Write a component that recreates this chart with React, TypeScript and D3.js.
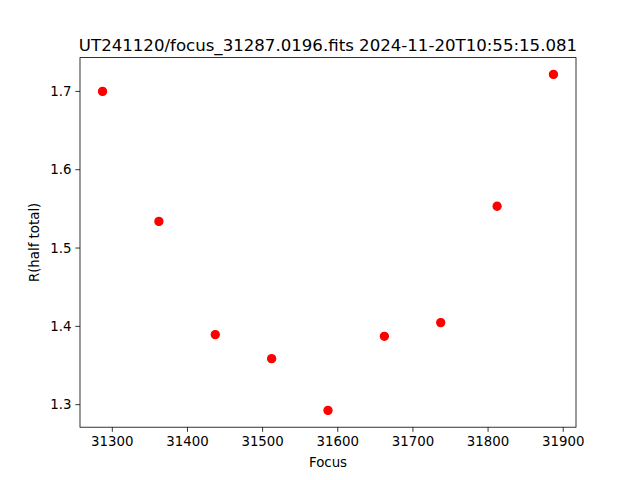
import React from "react";
import * as d3 from "d3";

const focusValues = [31287, 31362, 31437, 31512, 31587, 31662, 31737, 31812, 31887];
const radiusValues = [1.700, 1.534, 1.3895, 1.3588, 1.2927, 1.3873, 1.4048, 1.5534, 1.7217];
const xTicks = [31300, 31400, 31500, 31600, 31700, 31800, 31900];
const yTicks = [1.3, 1.4, 1.5, 1.6, 1.7];
const titleText = "UT241120/focus_31287.0196.fits 2024-11-20T10:55:15.081";
const xLabel = "Focus";
const yLabel = "R(half total)";

export default function App() {
  const W = 640, H = 480;
  const left = 80, right = 576, top = 57.6, bottom = 427.2;
  const [xmin, xmax] = d3.extent(focusValues) as [number, number];
  const [ymin, ymax] = d3.extent(radiusValues) as [number, number];
  const xm = (xmax - xmin) * 0.05, ym = (ymax - ymin) * 0.05;
  const x = d3.scaleLinear().domain([xmin - xm, xmax + xm]).range([left, right]);
  const y = d3.scaleLinear().domain([ymin - ym, ymax + ym]).range([bottom, top]);
  const font = "DejaVu Sans, sans-serif";
  return (
    <svg width={W} height={H} style={{ position: "absolute", left: 0, top: 0, background: "#fff" }} fontFamily={font}>
      <rect x={0} y={0} width={W} height={H} fill="#fff" />
      {focusValues.map((f, i) => (
        <circle key={i} cx={x(f)} cy={y(radiusValues[i])} r={4} fill="#ff0000" stroke="#ff0000" strokeWidth={1.33} />
      ))}
      <rect x={left} y={top} width={right - left} height={bottom - top} fill="none" stroke="#000" strokeWidth={0.8} />
      {xTicks.map((t) => (
        <g key={t} transform={`translate(${x(t)},${bottom})`}>
          <line y1={0} y2={4.67} stroke="#000" strokeWidth={0.8} />
          <text y={19} textAnchor="middle" fontSize={13.33}>{t}</text>
        </g>
      ))}
      {yTicks.map((t) => (
        <g key={t} transform={`translate(${left},${y(t)})`}>
          <line x1={0} x2={-4.67} stroke="#000" strokeWidth={0.8} />
          <text x={-8.5} textAnchor="end" fontSize={13.33} dy="0.35em">{t.toFixed(1)}</text>
        </g>
      ))}
      <text x={(left + right) / 2} y={467} textAnchor="middle" fontSize={13.33}>{xLabel}</text>
      <text transform={`translate(${39},${(top + bottom) / 2}) rotate(-90)`} textAnchor="middle" fontSize={13.33}>{yLabel}</text>
      <text x={(left + right) / 2} y={50.5} textAnchor="middle" fontSize={16.6}>{titleText}</text>
    </svg>
  );
}
